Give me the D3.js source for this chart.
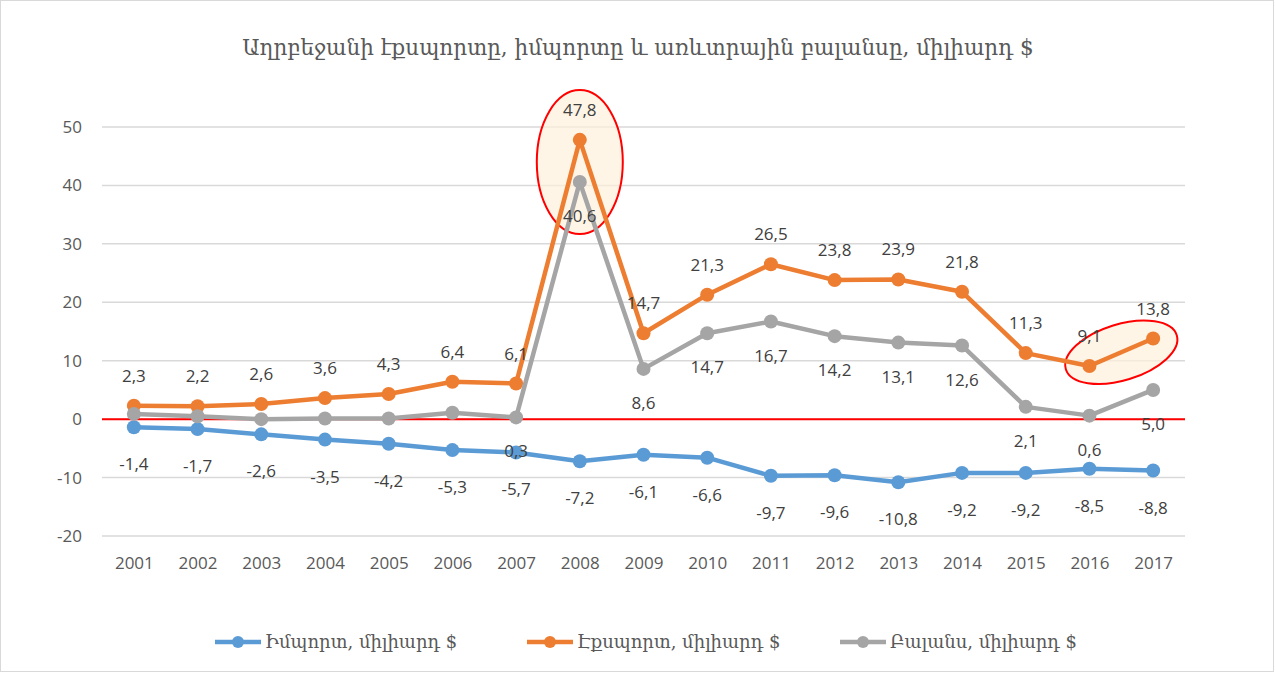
<!DOCTYPE html>
<html>
<head>
<meta charset="utf-8">
<script src="https://cdn.jsdelivr.net/npm/d3@7"></script>
<style>
  body { margin: 0; background: #fff; }
  text { font-family: 'Open Sans', 'Liberation Sans', sans-serif; }
</style>
</head>
<body>
<div id="chart"></div>
<script>
const years      = ['2001','2002','2003','2004','2005','2006','2007','2008','2009','2010','2011','2012','2013','2014','2015','2016','2017']
const importVals = [-1.4, -1.7, -2.6, -3.5, -4.2, -5.3, -5.7, -7.2, -6.1, -6.6, -9.7, -9.6, -10.8, -9.2, -9.2, -8.5, -8.8]
const exportVals = [2.3, 2.2, 2.6, 3.6, 4.3, 6.4, 6.1, 47.8, 14.7, 21.3, 26.5, 23.8, 23.9, 21.8, 11.3, 9.1, 13.8]
const balanceVals = [0.9, 0.5, 0.0, 0.1, 0.1, 1.1, 0.3, 40.6, 8.6, 14.7, 16.7, 14.2, 13.1, 12.6, 2.1, 0.6, 5.0]
// balance labels are only shown from 2007 on
const balanceLabelFrom = 6
const yTicks = [-20, -10, 0, 10, 20, 30, 40, 50]
const seriesNames = ['Իմպորտ, միլիարդ $', 'Էքսպորտ, միլիարդ $', 'Բալանս, միլիարդ $']
const title = 'Աղրբեջանի էքսպորտը, իմպորտը և առևտրային բալանսը, միլիարդ $'

const W = 1275, H = 673
const margin = {top: 127, right: 90, bottom: 137, left: 102}
const width = W - margin.left - margin.right
const height = H - margin.top - margin.bottom

const svg = d3.select('#chart').append('svg').attr('width', W).attr('height', H)

svg.append('rect').attr('x', 0.5).attr('y', 0.5).attr('width', W - 2).attr('height', H - 2)
  .attr('fill', '#fff').attr('stroke', '#d9d9d9')

svg.append('text').attr('x', 638).attr('y', 55).attr('text-anchor', 'middle')
  .style('font-family', "'DejaVu Serif', 'Noto Sans', serif").style('font-size', '21.5px').attr('fill', '#595959')
  .text(title)

const g = svg.append('g').attr('transform', 'translate(' + margin.left + ',' + margin.top + ')')

const x = d3.scalePoint().domain(years).range([0, width]).padding(0.5)
const y = d3.scaleLinear().domain([-20, 50]).range([height, 0])

// gridlines
g.selectAll('.grid').data(yTicks).enter().append('line')
  .attr('x1', 0).attr('x2', width)
  .attr('y1', d => y(d)).attr('y2', d => y(d))
  .attr('stroke', '#d9d9d9').attr('stroke-width', 1.5)

const yAxis = g.append('g').call(d3.axisLeft(y).tickValues(yTicks).tickSize(0).tickPadding(20)
  .tickFormat(d => String(d)))
yAxis.select('.domain').remove()
yAxis.selectAll('text').style('font-size', '17px').attr('fill', '#595959')

const xAxis = g.append('g').attr('transform', 'translate(0,' + height + ')')
  .call(d3.axisBottom(x).tickSize(0).tickPadding(21))
xAxis.select('.domain').remove()
xAxis.selectAll('text').style('font-size', '17px').attr('fill', '#595959')

// red zero line
g.append('line').attr('x1', 0).attr('x2', width).attr('y1', y(0)).attr('y2', y(0))
  .attr('stroke', '#ff0000').attr('stroke-width', 2)

const series = [
  {vals: importVals, color: '#5b9bd5', dy: 43, from: 0},
  {vals: exportVals, color: '#ed7d31', dy: -24, from: 0},
  {vals: balanceVals, color: '#a5a5a5', dy: 40, from: balanceLabelFrom}
]

// highlight ellipses (drawn under lines)
g.append('ellipse')
  .attr('cx', x('2008')).attr('cy', y(44)).attr('rx', 43).attr('ry', 72)
  .attr('fill', '#fdf1dc').attr('fill-opacity', 0.7).attr('stroke', '#ff0000').attr('stroke-width', 2)
const cx2 = (x('2016') + x('2017')) / 2, cy2 = y((exportVals[15] + exportVals[16]) / 2)
g.append('ellipse')
  .attr('transform', 'translate(' + cx2 + ',' + cy2 + ') rotate(-17)')
  .attr('rx', 58).attr('ry', 28)
  .attr('fill', '#fdf1dc').attr('fill-opacity', 0.7).attr('stroke', '#ff0000').attr('stroke-width', 2)

const line = d3.line().x((d, i) => x(years[i])).y(d => y(d))

series.forEach(s => {
  g.append('path').datum(s.vals).attr('d', line)
    .attr('fill', 'none').attr('stroke', s.color).attr('stroke-width', 4.5).attr('stroke-linejoin', 'round')
  g.selectAll(null).data(s.vals).enter().append('circle')
    .attr('cx', (d, i) => x(years[i])).attr('cy', d => y(d)).attr('r', 7)
    .attr('fill', s.color)
})

series.forEach(s => {
  g.selectAll(null).data(s.vals).enter()
    .filter((d, i) => i >= s.from)
    .append('text')
    .attr('x', (d, i) => x(years[i + s.from]))
    .attr('y', d => y(d) + s.dy)
    .attr('text-anchor', 'middle')
    .style('font-size', '17px').attr('fill', '#404040')
    .text(d => d3.format('.1f')(d).replace('.', ',').replace('−', '-'))
})

// legend
const legendX = [215, 527, 840]
const legend = svg.append('g').attr('transform', 'translate(0,642)')
series.forEach((s, i) => {
  legend.append('line').attr('x1', legendX[i]).attr('x2', legendX[i] + 46)
    .attr('stroke', s.color).attr('stroke-width', 4.5)
  legend.append('circle').attr('cx', legendX[i] + 23).attr('r', 6).attr('fill', s.color)
  legend.append('text').attr('x', legendX[i] + 50).attr('y', 6)
    .style('font-family', "'DejaVu Serif', 'Noto Sans', serif").style('font-size', '18px').attr('fill', '#595959')
    .text(seriesNames[i])
})
</script>
</body>
</html>
